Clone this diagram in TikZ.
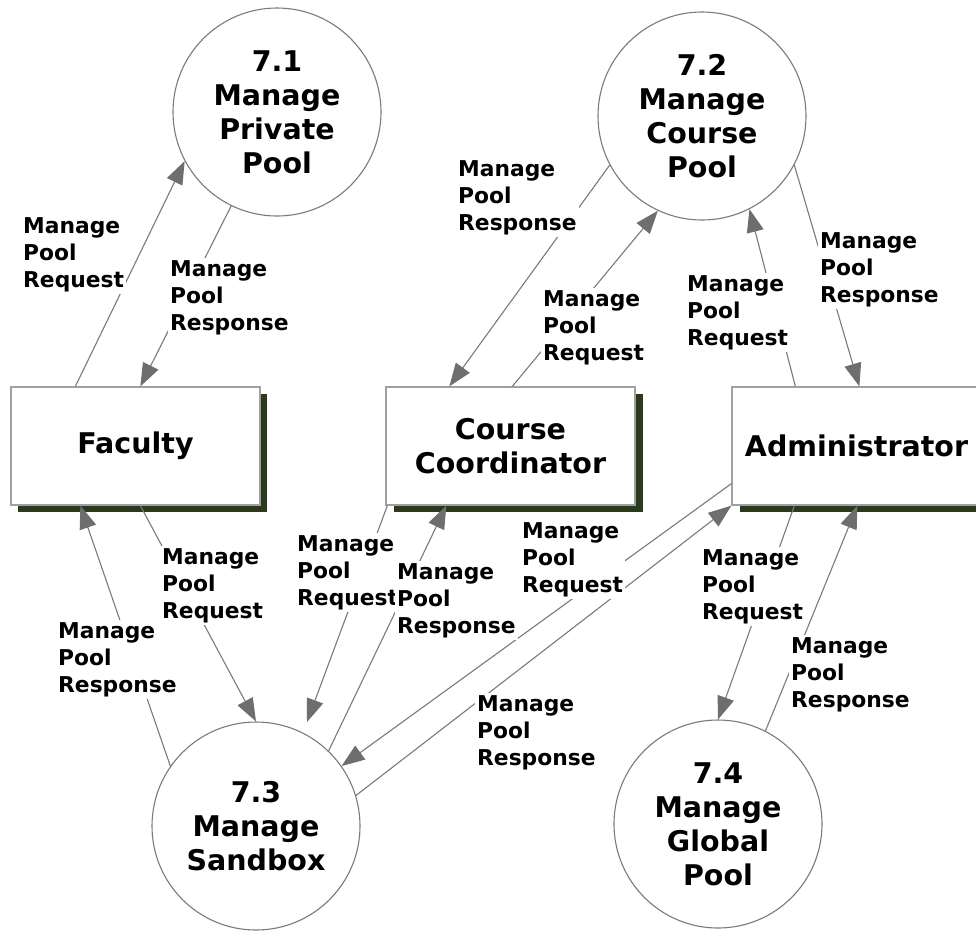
\documentclass[tikz,border=0pt]{standalone}
\usepackage{fontspec}
\setmainfont{DejaVu Sans}
\usetikzlibrary{arrows.meta,calc}
\definecolor{linegray}{HTML}{7A7A7A}
\definecolor{tipgray}{HTML}{6E6E6E}
\definecolor{boxgray}{HTML}{A0A0A0}
\definecolor{shadowgreen}{HTML}{2B3A1C}
\tikzset{
  proc/.style={circle, draw=linegray, line width=1.1pt, fill=white, minimum size=208pt, inner sep=0pt, align=center, font=\bfseries\fontsize{28.5}{34}\selectfont},
  entity/.style={rectangle, draw=boxgray, line width=1.3pt, fill=white, minimum width=249pt, minimum height=118pt, inner sep=0pt, align=center, font=\bfseries\fontsize{28.5}{34}\selectfont},
  shadowbox/.style={rectangle, fill=shadowgreen, minimum width=249pt, minimum height=118pt, inner sep=0pt},
  flow/.style={draw=linegray, line width=1.1pt, -{Triangle[length=23pt,width=17pt,color=tipgray]}},
  lbl/.style={anchor=north west, fill=white, inner sep=2pt, align=left, font=\bfseries\fontsize{21.8}{27}\selectfont}
}
\begin{document}
\begin{tikzpicture}[x=1pt,y=-1pt]
\useasboundingbox (0,0) rectangle (976,930);
\clip (0,0) rectangle (976,930);
\fill[white] (0,0) rectangle (976,930);
% shadows
\node[shadowbox] (facs) at (142.5,453) {};
\node[shadowbox] (ccs) at (518,453) {};
\node[shadowbox] (adms) at (864,453) {};
% entities
\node[entity] (fac) at (135.5,446) {Faculty};
\node[entity] (cc) at (510.5,446) {Course\\Coordinator};
\node[entity] (adm) at (856.5,446) {Administrator};
% processes
\node[proc] (c71) at (277,112) {7.1\\Manage\\Private\\Pool};
\node[proc] (c72) at (702,116) {7.2\\Manage\\Course\\Pool};
\node[proc] (c73) at (256,826) {7.3\\Manage\\Sandbox};
\node[proc] (c74) at (718,824) {7.4\\Manage\\Global\\Pool};
% flows
\draw[flow] ($(fac.north west)+(65,0)$) -- (c71.208);
\draw[flow] (c71.244) -- ($(fac.north west)+(130,0)$);
\draw[flow] (c72.208) -- ($(cc.north west)+(64,0)$);
\draw[flow] ($(cc.north west)+(127,0)$) -- (c72.245);
\draw[flow] ($(adm.north west)+(64,0)$) -- (c72.297);
\draw[flow] (c72.332) -- ($(adm.north west)+(128,0)$);
\draw[flow] ($(fac.south west)+(130,0)$) -- (c73.90);
\draw[flow] (c73.145) -- ($(fac.south west)+(70,0)$);
\coordinate (t9) at ($(c73.center)+(51,-104)$);
\draw[flow] ($(cc.south west)+(2,0)$) -- (t9);
\draw[flow] (c73.46) -- ($(cc.south west)+(61,0)$);
\draw[flow] ($(adm.south west)+(0,-22)$) -- (c73.35);
\draw[flow] (c73.17) -- (adm.south west);
\draw[flow] ($(adm.south west)+(63,0)$) -- (c74.90);
\draw[flow] (c74.63) -- ($(adm.south west)+(126,0)$);
% labels
\node[lbl] (l1) at (21,215) {Manage\\Pool\\Request};
\node[lbl] (l2) at (168,258) {Manage\\Pool\\Response};
\node[lbl] (l3) at (456,158) {Manage\\Pool\\Response};
\node[lbl] (l4) at (541,288) {Manage\\Pool\\Request};
\node[lbl] (l5) at (685,273) {Manage\\Pool\\Request};
\node[lbl] (l6) at (818,230) {Manage\\Pool\\Response};
\node[lbl] (l7) at (160,546) {Manage\\Pool\\Request};
\node[lbl] (l8) at (56,620) {Manage\\Pool\\Response};
\node[lbl] (l9) at (295,533) {Manage\\Pool\\Request};
\node[lbl] (l10) at (395,561) {Manage\\Pool\\Response};
\node[lbl] (l11) at (520,520) {Manage\\Pool\\Request};
\node[lbl] (l12) at (475,693) {Manage\\Pool\\Response};
\node[lbl] (l13) at (700,547) {Manage\\Pool\\Request};
\node[lbl] (l14) at (789,635) {Manage\\Pool\\Response};
\end{tikzpicture}
\end{document}
